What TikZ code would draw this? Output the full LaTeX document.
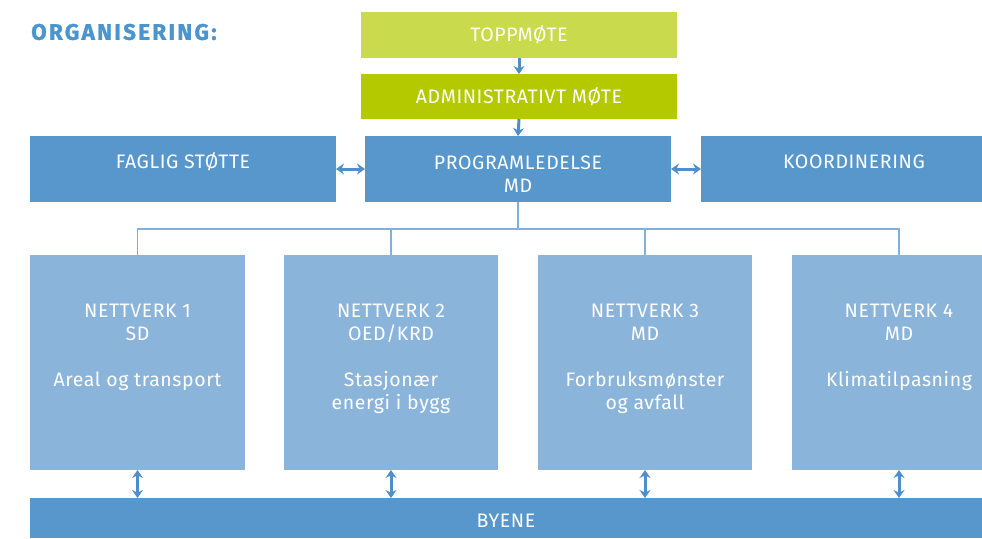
\documentclass[tikz,border=0pt]{standalone}
\usepackage{fontspec}
\setmainfont{Fira Sans}
\usetikzlibrary{arrows.meta}
\definecolor{titleblue}{HTML}{4A95CE}
\definecolor{green1}{HTML}{C9DA4C}
\definecolor{green2}{HTML}{B4C900}
\definecolor{darkblue}{HTML}{5897CB}
\definecolor{lightblue}{HTML}{8AB4DA}
\definecolor{linecol}{HTML}{7FB1DB}
\definecolor{arrowcol}{HTML}{4E8FCB}
\tikzset{
  box/.style={draw=none, fill=#1, inner sep=0pt, outer sep=0pt},
  lbl/.style={text=white, font=\fontsize{19.5}{23}\selectfont\addfontfeatures{LetterSpace=3}, align=center, inner sep=0pt},
  arr/.style={draw=arrowcol, line width=3pt, -{Stealth[length=8pt,width=11pt]}},
  darr/.style={draw=arrowcol, line width=3pt, {Stealth[length=8pt,width=11pt]}-{Stealth[length=8pt,width=11pt]}},
  tree/.style={draw=linecol, line width=1.5pt},
}
\begin{document}
\begin{tikzpicture}[x=1pt,y=-1pt]
\useasboundingbox (0,0) rectangle (982,538);
\clip (0,0) rectangle (982,538);
% title
\node[anchor=west, text=titleblue, font=\fontsize{22.5}{25}\bfseries\selectfont\addfontfeatures{LetterSpace=10,FakeBold=1.2}, inner sep=0pt] (title) at (31,32) {ORGANISERING:};
% top boxes
\node[box=green1, minimum width=316pt, minimum height=46pt] (topp) at (519,35) {};
\node[lbl] (toppt) at (519,35) {TOPPMØTE};
\node[box=green2, minimum width=316pt, minimum height=45pt] (adm) at (519,96.5) {};
\node[lbl] (admt) at (519,96.5) {ADMINISTRATIVT MØTE};
% middle row
\node[box=darkblue, minimum width=306pt, minimum height=66pt] (fag) at (183,169) {};
\node[lbl] (fagt) at (183,162) {FAGLIG STØTTE};
\node[box=darkblue, minimum width=306pt, minimum height=66pt] (prog) at (518,169) {};
\node[lbl, anchor=north] (progt) at (518,155.5) {PROGRAMLEDELSE\\MD};
\node[box=darkblue, minimum width=306pt, minimum height=66pt] (koord) at (854,169) {};
\node[lbl] (koordt) at (854,162) {KOORDINERING};
% networks
\node[box=lightblue, minimum width=215pt, minimum height=215pt] (n1) at (137.5,362.5) {};
\node[box=lightblue, minimum width=214pt, minimum height=215pt] (n2) at (391,362.5) {};
\node[box=lightblue, minimum width=214pt, minimum height=215pt] (n3) at (645,362.5) {};
\node[box=lightblue, minimum width=214pt, minimum height=215pt] (n4) at (899,362.5) {};
\node[lbl, anchor=north] (n1t) at (137.5,303.5) {NETTVERK 1\\SD\\[23pt]Areal og transport};
\node[lbl, anchor=north] (n2t) at (391,303.5) {NETTVERK 2\\OED/KRD\\[23pt]Stasjonær\\energi i bygg};
\node[lbl, anchor=north] (n3t) at (645,303.5) {NETTVERK 3\\MD\\[23pt]Forbruksmønster\\og avfall};
\node[lbl, anchor=north] (n4t) at (899,303.5) {NETTVERK 4\\MD\\[23pt]Klimatilpasning};
% bottom
\node[box=darkblue, minimum width=1000pt, minimum height=40pt] (byene) at (530,518) {};
\node[lbl] (byenet) at (506,521) {BYENE};
% arrows
\draw[arr] (topp.south) -- (adm.north);
\draw[arr] (adm.south) -- (prog.north);
\draw[darr] (fag.east) -- (prog.west);
\draw[darr] (prog.east) -- (koord.west);
% tree
\coordinate (jn) at (518,229);
\draw[tree] (prog.south) -- (jn);
\draw[tree] (n1.north) -- (n1.north |- jn) -- (n4.north |- jn) -- (n4.north);
\draw[tree] (n2.north |- jn) -- (n2.north);
\draw[tree] (n3.north |- jn) -- (n3.north);
% network to byene
\draw[darr] (n1.south) -- (n1.south |- byene.north);
\draw[darr] (n2.south) -- (n2.south |- byene.north);
\draw[darr] (n3.south) -- (n3.south |- byene.north);
\draw[darr] (n4.south) -- (n4.south |- byene.north);
\end{tikzpicture}
\end{document}
